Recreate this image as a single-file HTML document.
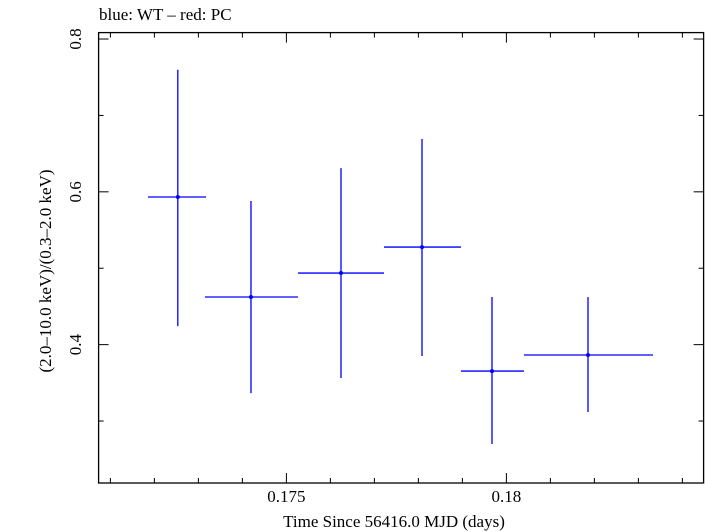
<!DOCTYPE html>
<html><head><meta charset="utf-8"><style>
body{margin:0;background:#fff;}
svg{display:block;font-family:"Liberation Serif",serif;}
</style></head><body>
<svg id="chart" width="705" height="532" xmlns="http://www.w3.org/2000/svg">
<text x="99" y="20" font-size="17">blue: WT – red: PC</text>
<rect x="98.6" y="32.6" width="605" height="450.4" fill="none" stroke="#000" stroke-width="1.3"/>
<g id="ticks"></g>
<g id="marks"></g>
<text x="394" y="527" font-size="17" text-anchor="middle">Time Since 56416.0 MJD (days)</text>
<text transform="translate(51,271) rotate(-90)" font-size="17" text-anchor="middle">(2.0–10.0 keV)/(0.3–2.0 keV)</text>
</svg>
<script>
const xCenters=[0.172532,0.174195,0.176241,0.178082,0.179673,0.181855];
const xLow=[0.171855,0.173150,0.175264,0.177218,0.178968,0.180400];
const xHigh=[0.173173,0.175264,0.177218,0.178968,0.180400,0.183332];
const yValues=[0.5932,0.4623,0.4937,0.5277,0.3654,0.3864];
const yLow=[0.4243,0.3366,0.3563,0.3851,0.2699,0.3118];
const yHigh=[0.7598,0.5880,0.6311,0.6691,0.4623,0.4623];
const xTickLabels=["0.175","0.18"];
const yTickLabels=["0.4","0.6","0.8"];
const X0=98.6,X1=703.6,Y0=483,Y1=32.6;
const xmin=0.170732,xmax=0.184482,ymin=0.2189,ymax=0.8084;
const sx=v=>X0+(v-xmin)/(xmax-xmin)*(X1-X0);
const sy=v=>Y0-(v-ymin)/(ymax-ymin)*(Y0-Y1);
const NS="http://www.w3.org/2000/svg";
const ticks=document.getElementById('ticks'),marks=document.getElementById('marks'),svg=document.getElementById('chart');
function line(p,x1,y1,x2,y2,c,w){const l=document.createElementNS(NS,'line');l.setAttribute('x1',x1);l.setAttribute('y1',y1);l.setAttribute('x2',x2);l.setAttribute('y2',y2);l.setAttribute('stroke',c);l.setAttribute('stroke-width',w);p.appendChild(l);return l;}
for(let i=171;i<=184;i++){const v=i/1000;const x=sx(v);const major=(i%5===0);const L=major?10:5;
 const t1=line(ticks,x,Y0,x,Y0-L,'#000',1);
 
 
 const t2=line(ticks,x,Y1,x,Y1+L,'#000',1);
 
 }
for(let i=3;i<=8;i++){const v=i/10;const y=sy(v);const major=(i%2===0);const L=major?10:5;
 const t1=line(ticks,X0,y,X0+L,y,'#000',1);
 
 
 const t2=line(ticks,X1,y,X1-L,y,'#000',1);
 
 }
xTickLabels.forEach(s=>{const t=document.createElementNS(NS,'text');t.setAttribute('x',sx(parseFloat(s)));t.setAttribute('y',502);t.setAttribute('font-size','17');t.setAttribute('text-anchor','middle');t.textContent=s;
 
 
 svg.appendChild(t);});
yTickLabels.forEach(s=>{const t=document.createElementNS(NS,'text');t.setAttribute('transform','translate(81,'+sy(parseFloat(s))+') rotate(-90)');t.setAttribute('font-size','17');t.setAttribute('text-anchor','middle');t.textContent=s;
 
 
 svg.appendChild(t);});
xCenters.forEach((xc,i)=>{
 const h=line(marks,sx(xLow[i]),sy(yValues[i]),sx(xHigh[i]),sy(yValues[i]),'#0000ff',1.3);
 
 
 const v=line(marks,sx(xc),sy(yLow[i]),sx(xc),sy(yHigh[i]),'#0000ff',1.3);
 
 
 const c=document.createElementNS(NS,'circle');c.setAttribute('cx',sx(xc));c.setAttribute('cy',sy(yValues[i]));c.setAttribute('r',2);c.setAttribute('fill','#0000ff');
 
 
 marks.appendChild(c);});
</script>
</body></html>
